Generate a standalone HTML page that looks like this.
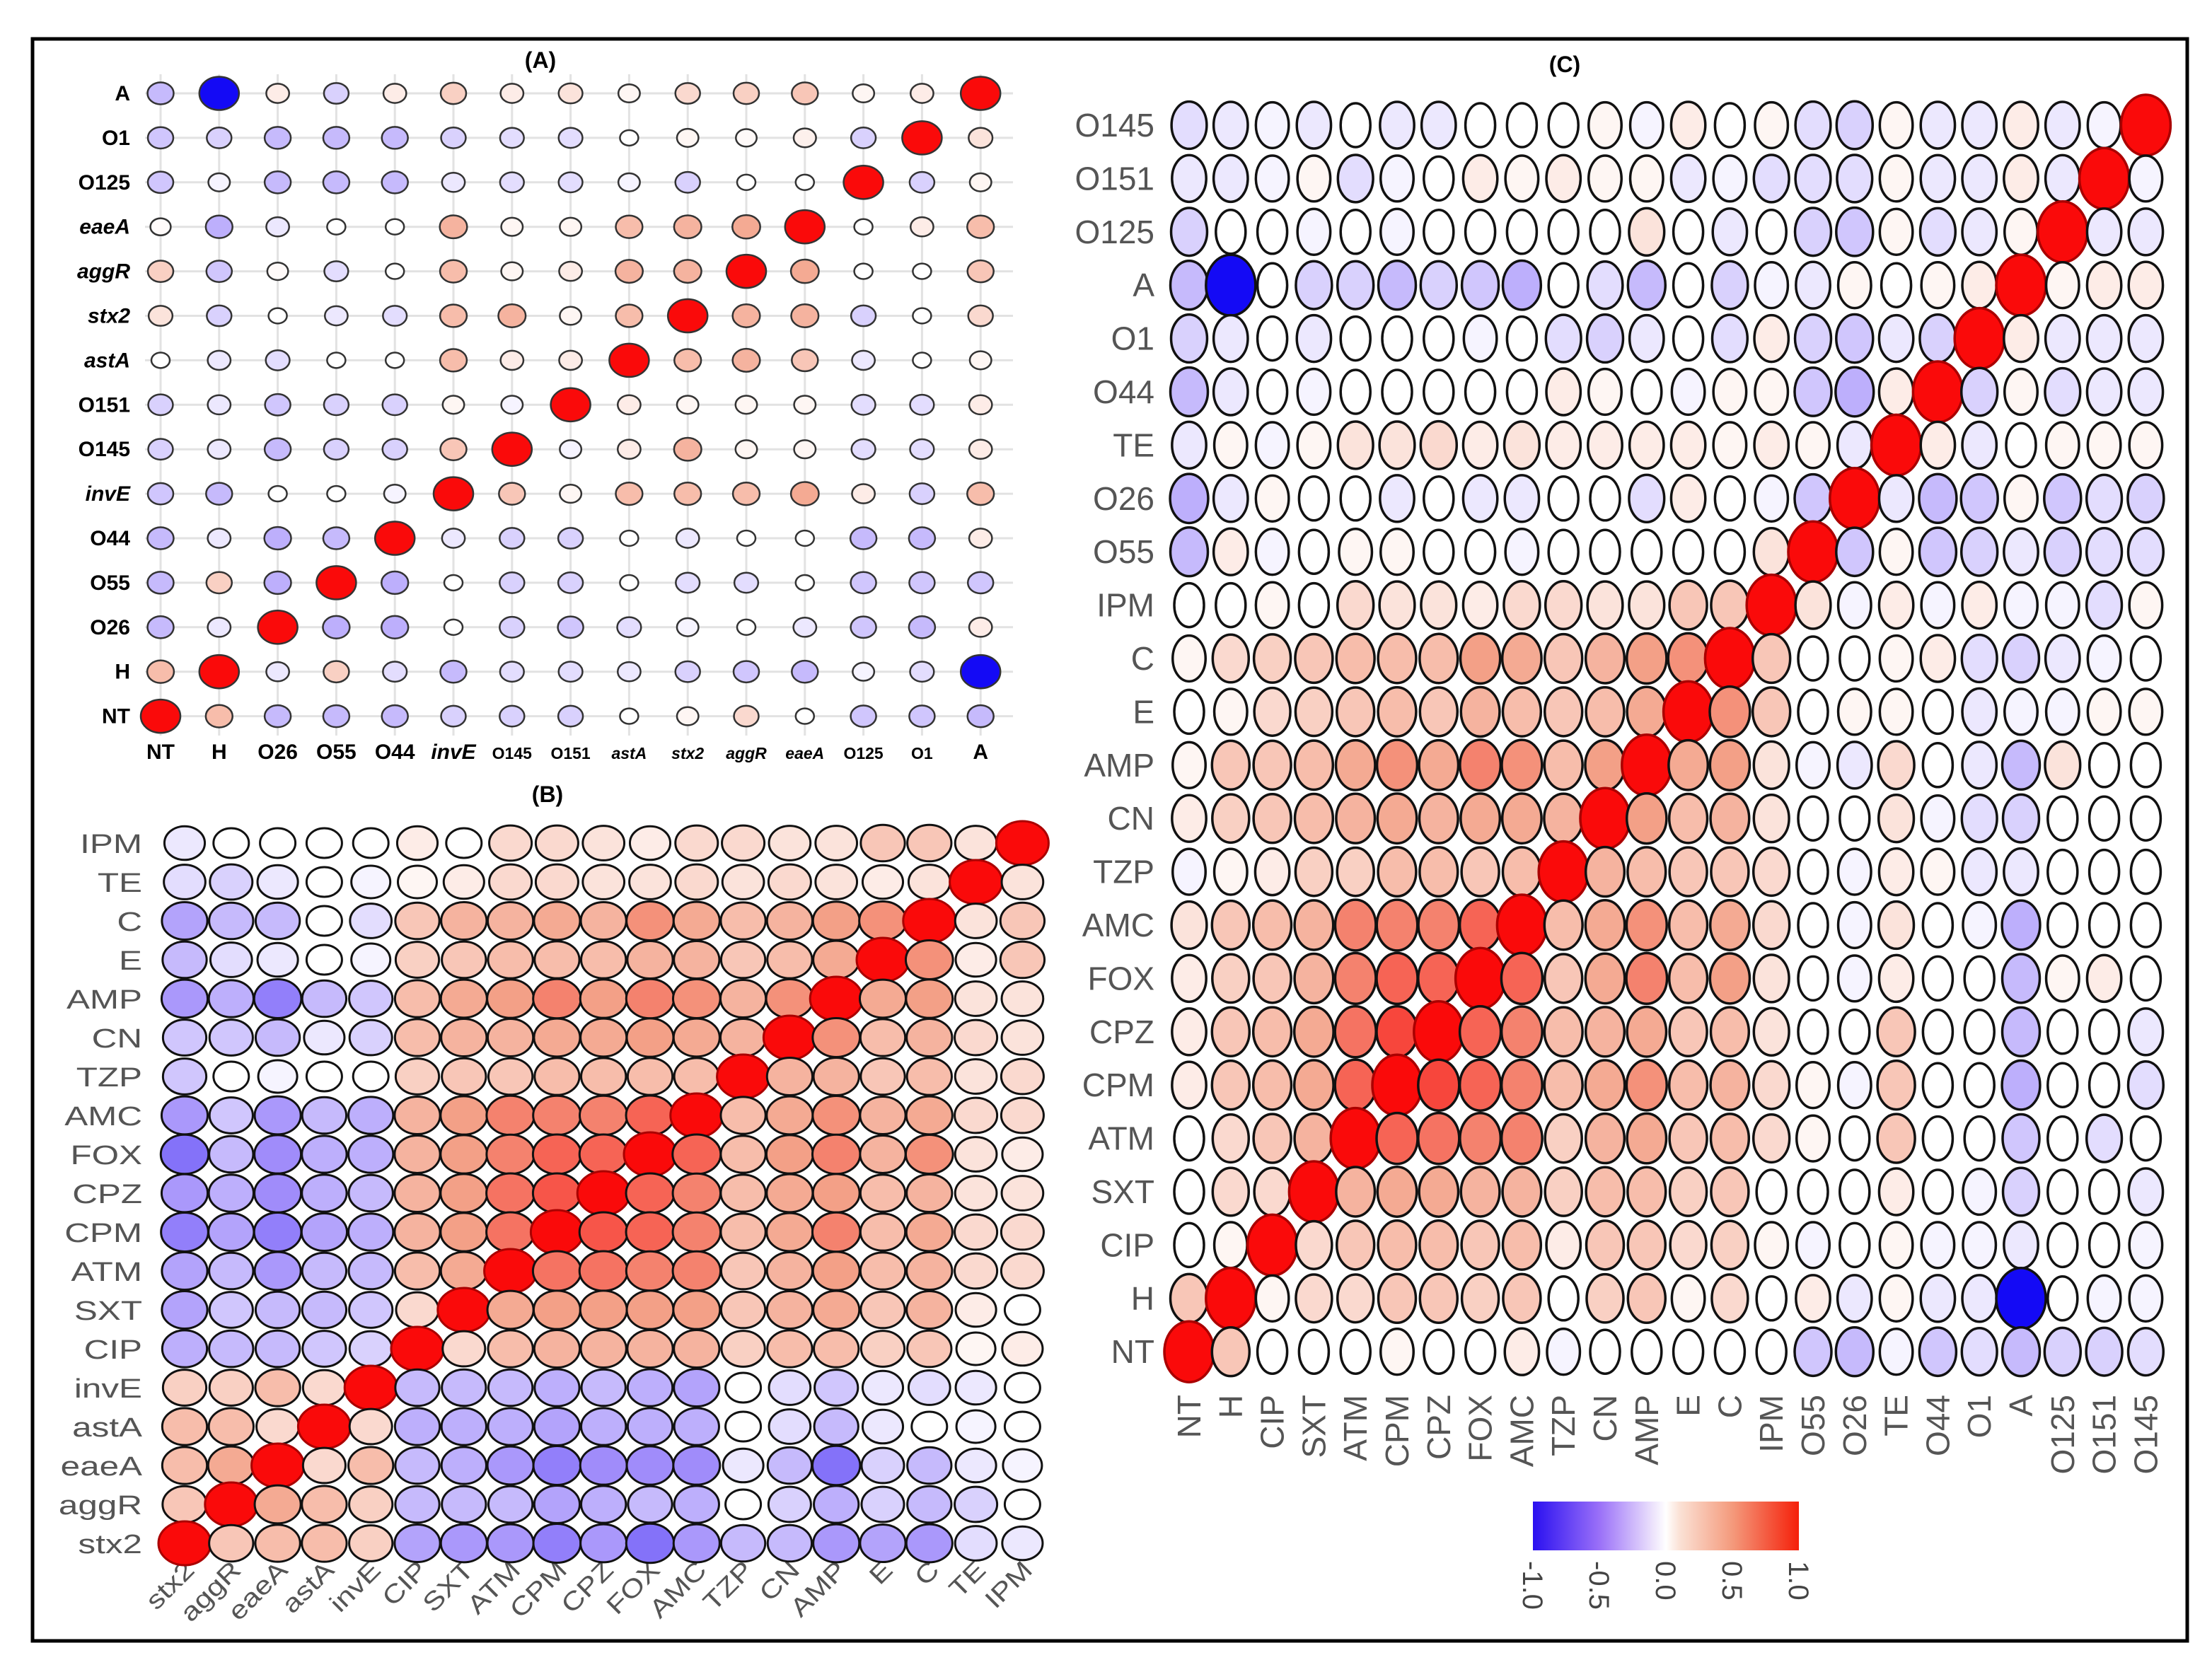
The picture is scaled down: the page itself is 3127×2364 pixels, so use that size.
<!DOCTYPE html>
<html><head><meta charset="utf-8"><style>
html,body{margin:0;padding:0;background:#fff;}
svg{display:block;}
text{font-family:"Liberation Sans",sans-serif;}
</style></head><body>
<svg id="root" width="3127" height="2364" viewBox="0 0 3127 2364" xmlns="http://www.w3.org/2000/svg">
<defs>
<linearGradient id="cbar" x1="0" x2="1" y1="0" y2="0">
<stop offset="0" stop-color="#2a10f0"/><stop offset="0.25" stop-color="#9a70f8"/><stop offset="0.45" stop-color="#ece2fc"/><stop offset="0.5" stop-color="#ffffff"/><stop offset="0.55" stop-color="#fbe2d6"/><stop offset="0.75" stop-color="#f49a7c"/><stop offset="1" stop-color="#f5200a"/>
</linearGradient>
</defs>
<rect x="0" y="0" width="3127" height="2364" fill="#fff"/>
<rect x="46" y="55" width="3046" height="2265" fill="none" stroke="#000" stroke-width="5"/>
<text x="764" y="96" font-size="32" font-weight="bold" text-anchor="middle">(A)</text>
<text x="774" y="1134" font-size="32" font-weight="bold" text-anchor="middle">(B)</text>
<text x="2212" y="102" font-size="32" font-weight="bold" text-anchor="middle">(C)</text>
<g id="pa"></g>
<g id="pb"></g>
<g id="pc"></g>
<g id="legend">
<rect x="2167" y="2123" width="376" height="69" fill="url(#cbar)"/>
</g>
</svg>
<script>
// ---------- Panel A data ----------
const aRows = ["A","O1","O125","eaeA","aggR","stx2","astA","O151","O145","invE","O44","O55","O26","H","NT"];
const aCols = ["NT","H","O26","O55","O44","invE","O145","O151","astA","stx2","aggR","eaeA","O125","O1","A"];
const aItalic = ["eaeA","aggR","stx2","astA","invE"];
const aVals = [
[-0.3,-1,0.1,-0.2,0.1,0.25,0.1,0.15,0.05,0.2,0.25,0.3,0.05,0.1,1],
[-0.25,-0.2,-0.3,-0.3,-0.3,-0.2,-0.15,-0.15,0,0.05,0.03,0.08,-0.2,1,0.15],
[-0.25,-0.05,-0.3,-0.3,-0.3,-0.1,-0.15,-0.15,-0.05,-0.2,0,0,1,-0.2,0.05],
[0.02,-0.35,-0.1,0,0,0.4,0.05,0.05,0.35,0.4,0.45,1,0,0.1,0.35],
[0.25,-0.25,0.03,-0.15,0,0.35,0.05,0.1,0.4,0.4,1,0.45,0,0,0.3],
[0.15,-0.2,0,-0.1,-0.15,0.35,0.4,0.05,0.35,1,0.4,0.4,-0.2,0,0.2],
[0,-0.1,-0.15,0,0,0.35,0.1,0.1,1,0.35,0.4,0.3,-0.1,0,0.05],
[-0.2,-0.1,-0.25,-0.2,-0.2,0.05,-0.05,1,0.1,0.05,0.05,0.05,-0.15,-0.15,0.1],
[-0.2,-0.1,-0.3,-0.2,-0.2,0.3,1,-0.05,0.1,0.4,0.05,0.05,-0.15,-0.15,0.1],
[-0.25,-0.3,0,0,-0.05,1,0.3,0.05,0.35,0.35,0.35,0.45,0.1,-0.2,0.35],
[-0.3,-0.1,-0.35,-0.3,1,-0.1,-0.2,-0.2,0,-0.1,0,0,-0.3,-0.3,0.1],
[-0.3,0.25,-0.35,1,-0.35,0,-0.2,-0.2,0,-0.15,-0.15,0,-0.25,-0.25,-0.25],
[-0.3,-0.1,1,-0.35,-0.35,0,-0.2,-0.25,-0.15,-0.05,0,-0.1,-0.25,-0.3,0.1],
[0.35,1,-0.1,0.25,-0.15,-0.3,-0.15,-0.15,-0.1,-0.2,-0.25,-0.3,-0.05,-0.15,-1],
[1,0.35,-0.3,-0.3,-0.3,-0.2,-0.2,-0.2,0,0.05,0.2,0,-0.25,-0.25,-0.3]
];
// ---------- Panel B data ----------
const bRows = ["IPM","TE","C","E","AMP","CN","TZP","AMC","FOX","CPZ","CPM","ATM","SXT","CIP","invE","astA","eaeA","aggR","stx2"];
const bCols = ["stx2","aggR","eaeA","astA","invE","CIP","SXT","ATM","CPM","CPZ","FOX","AMC","TZP","CN","AMP","E","C","TE","IPM"];
const bVals = [
[-0.1,0,0,0,0,0.1,0,0.2,0.2,0.15,0.1,0.2,0.2,0.15,0.15,0.3,0.3,0.15,1],
[-0.15,-0.2,-0.1,0,-0.05,0.05,0.1,0.2,0.2,0.15,0.15,0.2,0.15,0.2,0.15,0.1,0.15,1,0.15],
[-0.4,-0.3,-0.3,0,-0.15,0.3,0.4,0.4,0.45,0.4,0.55,0.45,0.35,0.4,0.5,0.55,1,0.15,0.3],
[-0.3,-0.15,-0.1,0,-0.05,0.25,0.3,0.35,0.35,0.35,0.4,0.4,0.3,0.35,0.45,1,0.55,0.1,0.3],
[-0.45,-0.35,-0.55,-0.3,-0.25,0.35,0.45,0.5,0.6,0.5,0.6,0.55,0.4,0.55,1,0.45,0.5,0.15,0.15],
[-0.25,-0.25,-0.3,-0.1,-0.2,0.35,0.4,0.4,0.45,0.45,0.5,0.45,0.4,1,0.55,0.35,0.4,0.2,0.15],
[-0.25,0,-0.05,0,0,0.25,0.3,0.3,0.35,0.35,0.35,0.35,1,0.4,0.4,0.3,0.35,0.15,0.2],
[-0.45,-0.25,-0.45,-0.3,-0.35,0.4,0.5,0.6,0.6,0.6,0.7,1,0.35,0.45,0.55,0.4,0.45,0.2,0.2],
[-0.6,-0.3,-0.5,-0.35,-0.35,0.4,0.5,0.6,0.7,0.7,1,0.7,0.35,0.5,0.6,0.4,0.55,0.15,0.1],
[-0.45,-0.35,-0.5,-0.35,-0.3,0.4,0.5,0.65,0.75,1,0.7,0.6,0.35,0.45,0.5,0.35,0.4,0.15,0.15],
[-0.55,-0.4,-0.55,-0.4,-0.35,0.4,0.5,0.65,1,0.75,0.7,0.6,0.35,0.45,0.6,0.35,0.45,0.2,0.2],
[-0.4,-0.3,-0.45,-0.3,-0.3,0.35,0.45,1,0.65,0.65,0.6,0.6,0.3,0.4,0.5,0.35,0.4,0.2,0.2],
[-0.4,-0.25,-0.3,-0.3,-0.25,0.2,1,0.45,0.5,0.5,0.5,0.5,0.3,0.4,0.45,0.3,0.4,0.1,0],
[-0.35,-0.3,-0.3,-0.25,-0.2,1,0.2,0.35,0.4,0.4,0.4,0.4,0.25,0.35,0.35,0.25,0.3,0.05,0.1],
[0.25,0.25,0.35,0.2,1,-0.3,-0.3,-0.3,-0.35,-0.3,-0.35,-0.4,0,-0.15,-0.25,-0.1,-0.15,-0.1,0],
[0.35,0.35,0.2,1,0.2,-0.35,-0.35,-0.35,-0.4,-0.35,-0.35,-0.35,0,-0.15,-0.3,-0.1,0,-0.05,0],
[0.35,0.45,1,0.2,0.35,-0.3,-0.35,-0.45,-0.55,-0.5,-0.5,-0.5,-0.1,-0.3,-0.6,-0.2,-0.3,-0.1,-0.05],
[0.3,1,0.45,0.35,0.25,-0.3,-0.3,-0.3,-0.4,-0.35,-0.3,-0.35,0,-0.2,-0.35,-0.2,-0.3,-0.2,0],
[1,0.3,0.35,0.35,0.25,-0.4,-0.45,-0.45,-0.55,-0.45,-0.6,-0.45,-0.3,-0.3,-0.45,-0.4,-0.45,-0.15,-0.1]
];
// ---------- Panel C data ----------
const cRows = ["O145","O151","O125","A","O1","O44","TE","O26","O55","IPM","C","E","AMP","CN","TZP","AMC","FOX","CPZ","CPM","ATM","SXT","CIP","H","NT"];
const cCols = ["NT","H","CIP","SXT","ATM","CPM","CPZ","FOX","AMC","TZP","CN","AMP","E","C","IPM","O55","O26","TE","O44","O1","A","O125","O151","O145"];
const cVals = [
[-0.15,-0.1,-0.05,-0.1,0,-0.1,-0.1,0,0,0,0.05,-0.05,0.1,0,0.05,-0.15,-0.2,0.05,-0.1,-0.1,0.1,-0.1,-0.05,1],
[-0.1,-0.1,-0.05,0.05,-0.15,-0.05,0,0.1,0.05,0.1,0.05,0.05,-0.1,-0.05,-0.15,-0.15,-0.15,0.05,-0.1,-0.1,0.1,-0.1,1,-0.05],
[-0.2,0,0,-0.05,0,-0.05,0,0,0,0,0,0.15,0,-0.1,0,-0.2,-0.25,0.05,-0.15,-0.1,0.05,1,-0.1,-0.1],
[-0.3,-1,0,-0.2,-0.2,-0.3,-0.2,-0.25,-0.35,0,-0.15,-0.3,0,-0.2,-0.05,-0.1,0.05,0,0.05,0.1,1,0.05,0.1,0.1],
[-0.2,-0.1,0,-0.1,0,0,0,-0.05,0,-0.15,-0.2,-0.1,0,-0.15,0.1,-0.2,-0.25,-0.1,-0.2,1,0.1,-0.1,-0.1,-0.1],
[-0.3,-0.1,0,-0.05,0,0,0,0,0,0.1,0.05,0,-0.05,0.05,0.05,-0.25,-0.35,0.1,1,-0.2,0.05,-0.15,-0.1,-0.1],
[-0.1,0.05,-0.05,0.05,0.15,0.15,0.2,0.1,0.15,0.1,0.1,0.1,0.1,0.05,0.1,0.05,-0.1,1,0.1,-0.1,0,0.05,0.05,0.05],
[-0.35,-0.1,0.05,0,0,-0.1,0,-0.1,-0.1,0,0,-0.15,0.1,0,-0.05,-0.25,1,-0.1,-0.3,-0.25,0.05,-0.25,-0.15,-0.2],
[-0.3,0.1,-0.05,0,0.05,0.05,0,0,-0.05,0,0,0,0,0,0.15,1,-0.25,0.05,-0.25,-0.2,-0.1,-0.2,-0.15,-0.15],
[0,0,0.05,0,0.2,0.15,0.15,0.1,0.2,0.2,0.15,0.15,0.3,0.3,1,0.15,-0.05,0.1,-0.05,0.1,-0.05,-0.05,-0.15,0.05],
[0.05,0.2,0.25,0.3,0.35,0.35,0.35,0.5,0.45,0.3,0.4,0.5,0.55,1,0.3,0,0,0.05,0.1,-0.15,-0.2,-0.1,-0.05,0],
[0,0.05,0.2,0.25,0.3,0.35,0.3,0.4,0.35,0.3,0.35,0.45,1,0.55,0.3,0,0.05,0.05,0,-0.1,-0.05,-0.05,0.05,0.05],
[0.05,0.3,0.3,0.35,0.45,0.55,0.45,0.6,0.55,0.35,0.5,1,0.45,0.5,0.15,-0.05,-0.1,0.2,0,-0.1,-0.3,0.15,0,0],
[0.1,0.25,0.3,0.35,0.4,0.45,0.4,0.45,0.45,0.4,1,0.5,0.35,0.4,0.15,0,0,0.15,-0.05,-0.15,-0.2,0,0,0],
[-0.05,0.05,0.1,0.25,0.25,0.35,0.35,0.3,0.35,1,0.4,0.35,0.3,0.3,0.2,0,-0.05,0.1,0.05,-0.1,-0.1,0,0,0],
[0.15,0.3,0.35,0.4,0.6,0.6,0.6,0.7,1,0.35,0.45,0.55,0.35,0.45,0.2,0,-0.05,0.15,0,-0.05,-0.35,0,0,0],
[0.1,0.25,0.3,0.4,0.6,0.7,0.7,1,0.7,0.3,0.45,0.6,0.35,0.5,0.15,0,-0.05,0.1,0,0,-0.3,0.05,0.1,0],
[0.1,0.3,0.35,0.45,0.65,0.8,1,0.7,0.6,0.35,0.4,0.45,0.3,0.35,0.15,0,0,0.3,0,0,-0.3,0,0,-0.1],
[0.1,0.3,0.35,0.45,0.7,1,0.8,0.7,0.6,0.35,0.45,0.55,0.35,0.4,0.2,0.05,-0.05,0.3,0,0,-0.35,0,0,-0.15],
[0,0.2,0.3,0.4,1,0.7,0.65,0.6,0.6,0.25,0.4,0.45,0.3,0.35,0.2,0.05,0,0.3,0,0,-0.25,0,-0.15,0],
[0,0.2,0.2,1,0.4,0.45,0.45,0.4,0.4,0.25,0.35,0.35,0.25,0.3,0,0,0,0.1,0,-0.05,-0.2,0,0,-0.1],
[0,0.05,1,0.2,0.3,0.35,0.35,0.3,0.35,0.1,0.3,0.3,0.2,0.25,0.05,-0.05,0,0.05,-0.05,-0.05,-0.1,0,0,-0.05],
[0.3,1,0.05,0.2,0.2,0.3,0.3,0.25,0.3,0,0.25,0.3,0.05,0.2,0,0.1,-0.1,0.05,-0.1,-0.1,-1,0,-0.05,-0.05],
[1,0.3,0,0,0,0.05,0,0,0.1,-0.05,0,0,0,0,0,-0.25,-0.3,-0.05,-0.25,-0.15,-0.3,-0.2,-0.2,-0.15]
];
const legendTicks = ["-1.0","-0.5","0.0","0.5","1.0"];
const legendTickVals = [-1,-0.5,0,0.5,1];

const NS = "http://www.w3.org/2000/svg";
function mk(tag, attrs, parent){const e=document.createElementNS(NS,tag);for(const k in attrs)e.setAttribute(k,attrs[k]);parent.appendChild(e);return e;}
function lerp(a,b,t){return Math.round(a+(b-a)*t);}
function colorOf(v){
  const neg=[[255,255,255],[160,140,250],[20,10,245]];
  const pos=[[255,255,255],[243,160,135],[250,10,10]];
  const p=v<0?neg:pos; let a=Math.min(1,Math.abs(v));
  let c0,c1,t; if(a<=0.5){c0=p[0];c1=p[1];t=a/0.5;} else {c0=p[1];c1=p[2];t=(a-0.5)/0.5;}
  return `rgb(${lerp(c0[0],c1[0],t)},${lerp(c0[1],c1[1],t)},${lerp(c0[2],c1[2],t)})`;
}

// ---- Panel A ----
const pa=document.getElementById('pa');
const aX0=227, aDX=82.8, aY0=132, aDY=62.9;
const ax=j=>aX0+j*aDX, ay=i=>aY0+i*aDY;
for(let i=0;i<aRows.length;i++){
  const g=mk('line',{x1:205,x2:1432,y1:ay(i),y2:ay(i),stroke:'#e2e2e2','stroke-width':3},pa);
  
  
}
for(let j=0;j<aCols.length;j++){
  const g=mk('line',{x1:ax(j),x2:ax(j),y1:105,y2:1040,stroke:'#e2e2e2','stroke-width':3},pa);
  
  
}
aRows.forEach((r,i)=>{
  const t=mk('text',{x:184,y:ay(i)+10,'font-size':30,'font-weight':'bold','font-style':aItalic.includes(r)?'italic':'normal','text-anchor':'end',fill:'#000'},pa);
  t.textContent=r;
  
  
});
aCols.forEach((c,j)=>{
  const small=["O145","O151","astA","stx2","aggR","eaeA","O125","O1"].includes(c);
  const t=mk('text',{x:ax(j),y:1073,'font-size':small?23:30,'font-weight':'bold','font-style':aItalic.includes(c)?'italic':'normal','text-anchor':'middle',fill:'#000'},pa);
  t.textContent=c;
  
  
});
aVals.forEach((row,i)=>row.forEach((v,j)=>{
  const a=Math.abs(v); const rx=a>=0.99?28:13+10*Math.sqrt(a);
  const e=mk('ellipse',{cx:ax(j),cy:ay(i),rx:rx,ry:rx*0.84,fill:colorOf(v),stroke:'#333','stroke-width':2.5},pa);
  
  
}));

// ---- Panel B ----
const pb=document.getElementById('pb');
const bX0=261, bDX=65.8, bY0=1192, bDY=55;
const bx=j=>bX0+j*bDX, by=i=>bY0+i*bDY;
bRows.forEach((r,i)=>{
  const t=mk('text',{x:0,y:0,'font-size':38,'text-anchor':'end',fill:'#555',transform:`translate(201 ${by(i)+14}) scale(1.3 1)`},pb);
  t.textContent=r;
  
  
});
bCols.forEach((c,j)=>{
  const t=mk('text',{x:0,y:0,'font-size':36,'text-anchor':'end',fill:'#555',transform:`translate(${bx(j)+16} 2222) rotate(-45) scale(1.2 1)`},pb);
  t.textContent=c;
  
  
});
bVals.forEach((row,i)=>row.forEach((v,j)=>{
  const a=Math.abs(v); const diag=a>=0.99;
  const rx=diag?37:25+9*Math.min(1,Math.sqrt(a)/0.8); const ry=diag?31:21+7*Math.min(1,Math.sqrt(a)/0.8);
  const e=mk('ellipse',{cx:bx(j),cy:by(i),rx:rx,ry:ry,fill:colorOf(v),stroke:diag?'#a00':'#111','stroke-width':3},pb);
  
  
}));

// ---- Panel C ----
const pc=document.getElementById('pc');
const cX0=1681, cDX=58.8, cY0=177, cDY=75.4;
const cx=j=>cX0+j*cDX, cy=i=>cY0+i*cDY;
cRows.forEach((r,i)=>{
  const t=mk('text',{x:1632,y:cy(i)+16,'font-size':46,'text-anchor':'end',fill:'#555'},pc);
  t.textContent=r;
  
  
});
cCols.forEach((c,j)=>{
  const t=mk('text',{x:cx(j)+16,y:1972,'font-size':46,'text-anchor':'end',fill:'#555',transform:`rotate(-90 ${cx(j)+16} 1972)`},pc);
  t.textContent=c;
  
  
});
cVals.forEach((row,i)=>row.forEach((v,j)=>{
  const a=Math.abs(v); const diag=v>=0.99; const full=a>=0.99;
  const rx=full?35:21+8*Math.min(1,Math.sqrt(a)/0.8); const ry=full?43:31+5*Math.min(1,Math.sqrt(a)/0.8);
  const e=mk('ellipse',{cx:cx(j),cy:cy(i),rx:rx,ry:ry,fill:colorOf(v),stroke:diag?'#a00':'#111','stroke-width':3.5},pc);
  
  
}));

// ---- Legend ----
const lg=document.getElementById('legend');
const lx=v=>2167+(v+1)/2*376;
legendTicks.forEach((s,k)=>{
  const x=lx(legendTickVals[k]);
  const t=mk('text',{x:x-14,y:2207,'font-size':40,fill:'#444','text-anchor':'start',transform:`rotate(90 ${x-14} 2207)`},lg);
  t.textContent=s;
  
  
});
</script>
</body></html>
